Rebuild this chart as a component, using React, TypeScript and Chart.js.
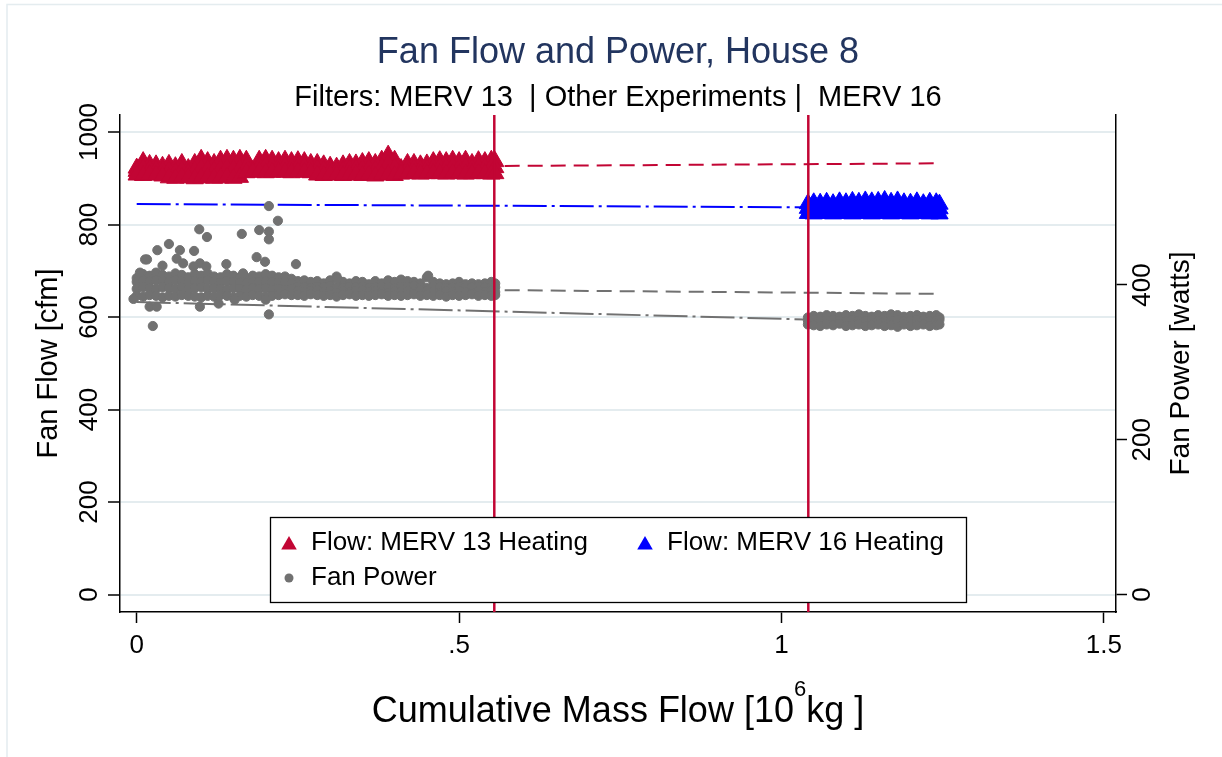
import { useEffect, useRef } from 'react';
import { Chart, registerables } from 'chart.js';

Chart.register(...registerables);

// ---------------- data ----------------
const massGrid13 = [0, 0.01, 0.02, 0.03, 0.04, 0.05, 0.06, 0.07, 0.08, 0.09, 0.1, 0.11, 0.12, 0.13, 0.14, 0.15, 0.16, 0.17, 0.18, 0.19, 0.2, 0.21, 0.22, 0.23, 0.24, 0.25, 0.26, 0.27, 0.28, 0.29, 0.3, 0.31, 0.32, 0.33, 0.34, 0.35, 0.36, 0.37, 0.38, 0.39, 0.4, 0.41, 0.42, 0.43, 0.44, 0.45, 0.46, 0.47, 0.48, 0.49, 0.5, 0.51, 0.52, 0.53, 0.54, 0.55, 0.556];

const flow13High = [922, 936, 930, 929, 926, 930, 925, 932, 921, 932, 941, 936, 932, 939, 941, 939, 941, 939, 917, 939, 941, 939, 936, 939, 936, 938, 936, 932, 932, 929, 926, 924, 929, 932, 931, 934, 936, 932, 939, 950, 939, 921, 932, 932, 929, 931, 936, 938, 936, 939, 936, 939, 932, 938, 936, 939, 936];
const flow13Mid = [915, 921, 919, 918, 916, 916, 913, 917, 911, 916, 921, 919, 916, 920, 922, 920, 921, 925, 915, 926, 927, 926, 925, 926, 924, 926, 925, 922, 920, 918, 917, 916, 917, 919, 920, 920, 921, 918, 923, 931, 922, 915, 921, 921, 919, 920, 923, 924, 922, 925, 923, 924, 921, 924, 923, 924, 923];
const flow13Low = [907, 906, 908, 907, 905, 901, 900, 902, 901, 899, 901, 902, 900, 901, 903, 900, 902, 912, 913, 914, 912, 913, 914, 913, 912, 914, 913, 912, 907, 906, 908, 907, 906, 907, 908, 906, 907, 905, 907, 908, 906, 909, 910, 911, 909, 910, 911, 910, 909, 911, 910, 909, 910, 911, 910, 909, 910];

const power13A = [409, 414, 412, 416, 413, 411, 415, 413, 410, 414, 412, 415, 411, 410, 414, 412, 410, 409, 412, 411, 414, 412, 410, 411, 408, 405, 406, 404, 405, 402, 406, 411, 404, 402, 405, 404, 401, 405, 402, 406, 404, 407, 405, 404, 402, 410, 404, 402, 401, 402, 404, 401, 402, 401, 402, 404, 402];
const power13B = [404, 406, 405, 406, 405, 404, 406, 405, 403, 405, 404, 406, 404, 403, 405, 404, 403, 402, 404, 404, 405, 404, 403, 404, 402, 398, 397, 396, 398, 397, 399, 397, 396, 398, 397, 398, 396, 397, 398, 397, 396, 398, 397, 399, 397, 396, 398, 397, 396, 397, 398, 396, 397, 398, 397, 396, 397];
const power13C = [395, 397, 396, 395, 397, 396, 395, 397, 394, 396, 397, 395, 396, 395, 394, 396, 395, 394, 396, 395, 396, 394, 395, 394, 395, 392, 391, 392, 393, 391, 392, 390, 392, 391, 392, 393, 391, 392, 391, 390, 392, 391, 392, 391, 393, 392, 391, 390, 392, 391, 392, 391, 390, 392, 391, 392, 391];
const power13D = [386, 385, 387, 386, 384, 386, 385, 387, 386, 385, 384, 386, 385, 387, 386, 384, 386, 385, 387, 386, 385, 386, 387, 388, 387, 387, 386, 388, 387, 386, 387, 385, 387, 388, 386, 387, 386, 387, 388, 386, 387, 386, 387, 388, 386, 387, 386, 387, 385, 387, 386, 387, 388, 386, 387, 386, 387];

const power13ExtraMass = [0.205, 0.219, 0.097, 0.109, 0.163, 0.19, 0.205, 0.205, 0.05, 0.032, 0.067, 0.089, 0.016, 0.139, 0.186, 0.199, 0.247, 0.062, 0.072, 0.098, 0.088, 0.108, 0.165, 0.311, 0.452, 0.205, 0.025, -0.005, 0.02, 0.031, 0.127, 0.098, 0.152, 0.2, 0.005, 0.013, 0.04];
const power13ExtraWatts = [502, 483, 472, 462, 466, 471, 469, 459, 453, 445, 445, 444, 433, 427, 436, 430, 427, 434, 428, 428, 424, 424, 415, 408, 412, 362, 347, 382, 372, 372, 376, 372, 381, 381, 416, 433, 425];

const massGrid16 = [1.041, 1.05, 1.06, 1.07, 1.08, 1.09, 1.1, 1.11, 1.12, 1.13, 1.14, 1.15, 1.16, 1.17, 1.18, 1.19, 1.2, 1.21, 1.22, 1.23, 1.24, 1.245];
const flow16High = [845, 847, 846, 848, 845, 849, 847, 850, 848, 851, 849, 850, 852, 848, 851, 847, 846, 849, 845, 848, 847, 844];
const flow16Mid = [835, 836, 835, 836, 834, 837, 835, 837, 836, 838, 836, 837, 838, 836, 837, 835, 835, 836, 834, 836, 835, 834];
const flow16Low = [824, 823, 825, 824, 823, 825, 824, 823, 825, 824, 823, 824, 825, 823, 824, 825, 823, 824, 825, 823, 824, 823];
const power16High = [358, 360, 359, 361, 360, 359, 361, 360, 362, 360, 359, 361, 360, 362, 361, 359, 360, 361, 359, 360, 361, 358];
const power16Mid = [354, 355, 353, 354, 355, 354, 353, 355, 354, 353, 355, 354, 353, 354, 355, 353, 354, 355, 354, 353, 354, 355];
const power16Low = [349, 348, 347, 349, 348, 350, 347, 348, 349, 347, 348, 349, 347, 348, 346, 349, 347, 348, 349, 347, 348, 349];

const fitMass = [0, 1.246];
const flow13Fit = [921.8, 932.3];
const flow16Fit = [844.3, 835.8];
const power13Fit = [397.3, 388.6];
const power16Fit = [378, 351];

const filterChangeMass = [0.5546, 1.0416];

const xTickValues = [0, 0.5, 1, 1.5];
const xTickLabels = ['0', '.5', '1', '1.5'];
const flowTickValues = [0, 200, 400, 600, 800, 1000];
const powerTickValues = [0, 200, 400];

const xRange = [-0.0259, 1.5188];
const flowRange = [-37.8, 1036.8];
const powerRange = [-22.6, 619.7];

const titleText = 'Fan Flow and Power, House 8';
const subtitleText = 'Filters: MERV 13  | Other Experiments |  MERV 16';
const flowAxisTitle = 'Fan Flow [cfm]';
const powerAxisTitle = 'Fan Power [watts]';
const xTitleParts = ['Cumulative Mass Flow [10', '6', 'kg ]'];
const seriesLabels = ['Flow: MERV 13 Heating', 'Flow: MERV 16 Heating', 'Fan Power'];

// ---------------- styles ----------------
const FONT = '"Liberation Sans", Arial, Helvetica, sans-serif';
const RED = '#c20534';
const BLUE = '#0000ff';
const GRAY = '#717171';
const NAVY = '#22355f';
const GRID = '#e4ecef';

const pts = (grid: number[], ...rows: number[][]) =>
  rows.flatMap((r) => grid.map((m, i) => ({ x: m, y: r[i] })));
const pairs = (xs: number[], ys: number[]) => xs.map((x, i) => ({ x, y: ys[i] }));

const decor = {
  id: 'decor',
  beforeDraw(chart: any) {
    const ctx = chart.ctx;
    ctx.save();
    ctx.fillStyle = '#fff';
    ctx.fillRect(0, 0, chart.width, chart.height);
    ctx.strokeStyle = GRID;
    ctx.lineWidth = 1.5;
    ctx.beginPath();
    ctx.moveTo(7, chart.height);
    ctx.lineTo(7, 4.5);
    ctx.lineTo(chart.width, 4.5);
    ctx.stroke();
    ctx.restore();
  },
  afterDatasetsDraw(chart: any) {
    const { ctx, chartArea, scales } = chart;
    ctx.save();
    // filter-change lines
    ctx.strokeStyle = RED;
    ctx.lineWidth = 2.5;
    filterChangeMass.forEach((m) => {
      const x = scales.x.getPixelForValue(m);
      ctx.beginPath();
      ctx.moveTo(x, chartArea.top);
      ctx.lineTo(x, chartArea.bottom);
      ctx.stroke();
    });
    // legend
    const L = 270, T = 517, W = 696, H = 85;
    ctx.fillStyle = '#fff';
    ctx.fillRect(L, T, W, H);
    ctx.strokeStyle = '#000';
    ctx.lineWidth = 1.3;
    ctx.strokeRect(L + 0.5, T + 0.5, W, H);
    const entries = [
      { ds: 0, x: 289, y: 543 },
      { ds: 1, x: 645, y: 543 },
      { ds: 2, x: 289, y: 578 },
    ];
    ctx.font = `26px ${FONT}`;
    ctx.textAlign = 'left';
    ctx.textBaseline = 'middle';
    entries.forEach((e) => {
      const ds = chart.data.datasets[e.ds];
      ctx.fillStyle = ds.backgroundColor;
      ctx.beginPath();
      if (ds.pointStyle === 'triangle') {
        const r = 9;
        const cy = e.y + 2;
        ctx.moveTo(e.x, cy - r);
        ctx.lineTo(e.x + r * 0.866, cy + r / 2);
        ctx.lineTo(e.x - r * 0.866, cy + r / 2);
        ctx.closePath();
      } else {
        ctx.arc(e.x, e.y, 4.5, 0, Math.PI * 2);
      }
      ctx.fill();
      ctx.fillStyle = '#000';
      ctx.fillText(ds.label, e.x + 22, e.y);
    });
    ctx.restore();
  },
  afterDraw(chart: any) {
    const { ctx, chartArea } = chart;
    const cx = (chartArea.left + chartArea.right) / 2;
    const cy = (chartArea.top + chartArea.bottom) / 2;
    ctx.save();
    ctx.textAlign = 'center';
    ctx.textBaseline = 'alphabetic';
    ctx.fillStyle = NAVY;
    ctx.font = `36px ${FONT}`;
    ctx.fillText(titleText, cx, 63);
    ctx.fillStyle = '#000';
    ctx.font = `29px ${FONT}`;
    ctx.fillText(subtitleText, cx, 106);

    // y titles
    ctx.textBaseline = 'middle';
    ctx.font = `29px ${FONT}`;
    ctx.save();
    ctx.translate(49, cy);
    ctx.rotate(-Math.PI / 2);
    ctx.fillText(flowAxisTitle, 0, 0);
    ctx.restore();
    ctx.font = `28px ${FONT}`;
    ctx.save();
    ctx.translate(1181, cy);
    ctx.rotate(-Math.PI / 2);
    ctx.fillText(powerAxisTitle, 0, 0);
    ctx.restore();

    // x title with superscript
    ctx.textBaseline = 'alphabetic';
    ctx.textAlign = 'left';
    ctx.font = `36px ${FONT}`;
    const w1 = ctx.measureText(xTitleParts[0]).width;
    const w3 = ctx.measureText(xTitleParts[2]).width;
    ctx.font = `22px ${FONT}`;
    const w2 = ctx.measureText(xTitleParts[1]).width;
    let x = cx - (w1 + w2 + w3) / 2;
    ctx.font = `36px ${FONT}`;
    ctx.fillText(xTitleParts[0], x, 722);
    x += w1;
    ctx.font = `22px ${FONT}`;
    ctx.fillText(xTitleParts[1], x, 696);
    x += w2;
    ctx.font = `36px ${FONT}`;
    ctx.fillText(xTitleParts[2], x, 722);
    ctx.restore();
  },
};

export default function App() {
  const ref = useRef<HTMLCanvasElement>(null);
  useEffect(() => {
    const canvas = ref.current as HTMLCanvasElement;
    const tickFont = { family: FONT, size: 26 };
    const chart = new Chart(canvas, {
      type: 'scatter',
      data: {
        datasets: [
          {
            label: seriesLabels[0],
            data: pts(massGrid13, flow13High, flow13Mid, flow13Low),
            yAxisID: 'y',
            pointStyle: 'triangle',
            pointRadius: 10,
            backgroundColor: RED,
            borderColor: RED,
            pointBorderWidth: 1,
          },
          {
            label: seriesLabels[1],
            data: pts(massGrid16, flow16High, flow16Mid, flow16Low),
            yAxisID: 'y',
            pointStyle: 'triangle',
            pointRadius: 10,
            backgroundColor: BLUE,
            borderColor: BLUE,
            pointBorderWidth: 1,
          },
          {
            label: seriesLabels[2],
            data: [
              ...pts(massGrid13, power13A, power13B, power13C, power13D),
              ...pairs(power13ExtraMass, power13ExtraWatts),
              ...pts(massGrid16, power16High, power16Mid, power16Low),
            ],
            yAxisID: 'y2',
            pointStyle: 'circle',
            pointRadius: 4.6,
            backgroundColor: GRAY,
            borderColor: GRAY,
            pointBorderWidth: 1,
          },
          {
            label: 'fit13flow',
            data: pairs(fitMass, flow13Fit),
            yAxisID: 'y',
            showLine: true,
            pointRadius: 0,
            borderColor: RED,
            borderWidth: 2,
            borderDash: [15, 8],
          },
          {
            label: 'fit16flow',
            data: pairs(fitMass, flow16Fit),
            yAxisID: 'y',
            showLine: true,
            pointRadius: 0,
            borderColor: BLUE,
            borderWidth: 2,
            borderDash: [34, 5, 3, 5],
          },
          {
            label: 'fit13power',
            data: pairs(fitMass, power13Fit),
            yAxisID: 'y2',
            showLine: true,
            pointRadius: 0,
            borderColor: GRAY,
            borderWidth: 2,
            borderDash: [15, 8],
          },
          {
            label: 'fit16power',
            data: pairs(fitMass, power16Fit),
            yAxisID: 'y2',
            showLine: true,
            pointRadius: 0,
            borderColor: GRAY,
            borderWidth: 2,
            borderDash: [34, 5, 3, 5],
          },
        ],
      },
      options: {
        animation: false,
        responsive: false,
        maintainAspectRatio: false,
        devicePixelRatio: 1,
        events: [],
        layout: { padding: { top: 115, left: 0, right: 0, bottom: 0 } },
        plugins: {
          legend: { display: false },
          tooltip: { enabled: false },
          title: { display: false },
        },
        scales: {
          x: {
            type: 'linear',
            position: 'bottom',
            min: xRange[0],
            max: xRange[1],
            afterBuildTicks: (s: any) => {
              s.ticks = xTickValues.map((v) => ({ value: v }));
            },
            afterFit: (s: any) => {
              s.height = 145;
            },
            grid: { drawOnChartArea: false, drawTicks: true, tickLength: 11, tickColor: '#000', tickWidth: 1.5 },
            border: { display: true, color: '#000', width: 1.5 },
            ticks: {
              autoSkip: false,
              maxRotation: 0,
              minRotation: 0,
              padding: 7,
              color: '#000',
              font: tickFont,
              callback: (v: any) => xTickLabels[xTickValues.indexOf(Number(v))],
            },
          },
          y: {
            type: 'linear',
            position: 'left',
            min: flowRange[0],
            max: flowRange[1],
            afterBuildTicks: (s: any) => {
              s.ticks = flowTickValues.map((v) => ({ value: v }));
            },
            afterFit: (s: any) => {
              s.width = 120;
            },
            grid: { drawOnChartArea: true, color: GRID, lineWidth: 2, drawTicks: true, tickLength: 12, tickColor: '#000', tickWidth: 1.5 },
            border: { display: true, color: '#000', width: 1.5 },
            ticks: {
              autoSkip: false,
              minRotation: 90,
              maxRotation: 90,
              crossAlign: 'center',
              padding: -10.9,
              color: '#000',
              font: tickFont,
              callback: (v: any) => String(v),
            },
          },
          y2: {
            type: 'linear',
            position: 'right',
            min: powerRange[0],
            max: powerRange[1],
            afterBuildTicks: (s: any) => {
              s.ticks = powerTickValues.map((v) => ({ value: v }));
            },
            afterFit: (s: any) => {
              s.width = 106;
            },
            grid: { drawOnChartArea: false, drawTicks: true, tickLength: 11, tickColor: '#000', tickWidth: 1.5 },
            border: { display: true, color: '#000', width: 1.5 },
            ticks: {
              autoSkip: false,
              minRotation: 90,
              maxRotation: 90,
              crossAlign: 'center',
              padding: -5.7,
              color: '#000',
              font: tickFont,
              callback: (v: any) => String(v),
            },
          },
        },
      } as any,
      plugins: [decor],
    });
    return () => chart.destroy();
  }, []);
  return (
    <div style={{ position: 'fixed', left: 0, top: 0, width: 1222, height: 757, background: '#fff' }}>
      <canvas ref={ref} width={1222} height={757} style={{ display: 'block', width: '1222px', height: '757px' }} />
    </div>
  );
}
